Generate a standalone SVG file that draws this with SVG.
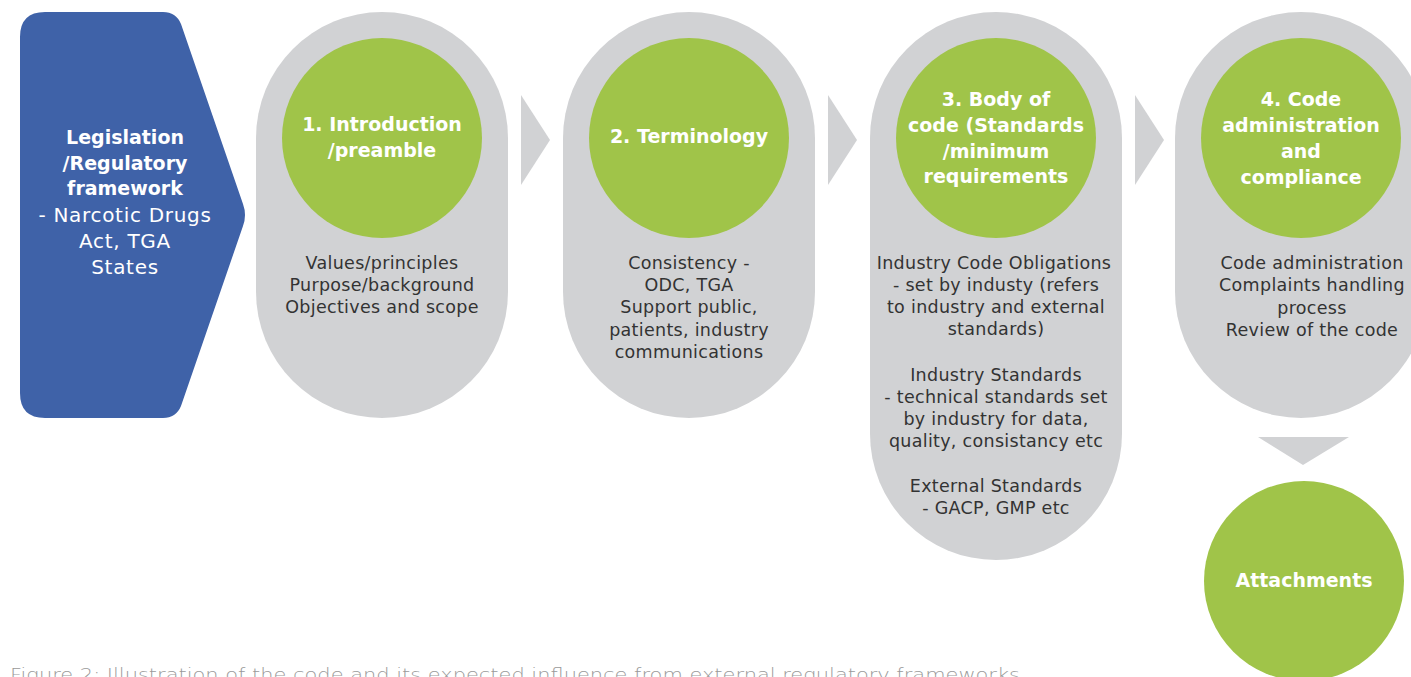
<svg xmlns="http://www.w3.org/2000/svg" width="1411" height="677" viewBox="0 0 1411 677">
<style>
.pill{fill:#D1D2D4}
.green{fill:#A0C449}
.chev{fill:#D1D2D4}
.h{font-family:"DejaVu Sans","Open Sans",sans-serif;font-weight:700;font-size:19px;fill:#ffffff;text-anchor:middle}
.b{font-family:"DejaVu Sans","Open Sans",sans-serif;font-size:17.5px;letter-spacing:0.3px;fill:#333333;text-anchor:middle}
.w{font-family:"DejaVu Sans","Open Sans",sans-serif;font-size:20px;letter-spacing:0.7px;fill:#ffffff;text-anchor:middle}
.cap{font-family:"DejaVu Sans","Open Sans",sans-serif;font-weight:200;font-size:18px;fill:#9a9a9a}
</style>
<rect width="1411" height="677" fill="#ffffff"/>
<g id="legislation">
<path d="M45 12 H163 Q176 12 181 24 L243 204 Q247 215 243 226 L181 406 Q176 418 163 418 H45 Q20 418 20 393 V37 Q20 12 45 12 Z" fill="#3F62A8"/>
<text class="h" x="125" y="144">Legislation</text>
<text class="h" x="125" y="170">/Regulatory</text>
<text class="h" x="125" y="195">framework</text>
<text class="w" x="125" y="222">- Narcotic Drugs</text>
<text class="w" x="125" y="248">Act, TGA</text>
<text class="w" x="125" y="274">States</text>
</g>
<g id="introduction">
<rect class="pill" x="256" y="12" width="252" height="406" rx="126" ry="126"/>
<circle class="green" cx="382" cy="138" r="100"/>
<text class="h" x="382" y="131">1. Introduction</text>
<text class="h" x="382" y="157">/preamble</text>
<text class="b" x="382" y="269">Values/principles</text>
<text class="b" x="382" y="291">Purpose/background</text>
<text class="b" x="382" y="313">Objectives and scope</text>
</g>
<g id="terminology">
<rect class="pill" x="563" y="12" width="252" height="406" rx="126" ry="126"/>
<circle class="green" cx="689" cy="138" r="100"/>
<text class="h" x="689" y="143">2. Terminology</text>
<text class="b" x="689" y="269">Consistency -</text>
<text class="b" x="689" y="291">ODC, TGA</text>
<text class="b" x="689" y="313">Support public,</text>
<text class="b" x="689" y="336">patients, industry</text>
<text class="b" x="689" y="358">communications</text>
</g>
<g id="body">
<rect class="pill" x="870" y="12" width="252" height="548" rx="126" ry="126"/>
<circle class="green" cx="996" cy="138" r="100"/>
<text class="h" x="996" y="106">3. Body of</text>
<text class="h" x="996" y="132">code (Standards</text>
<text class="h" x="996" y="158">/minimum</text>
<text class="h" x="996" y="183">requirements</text>
<text class="b" x="994" y="269">Industry Code Obligations</text>
<text class="b" x="996" y="291">- set by industy (refers</text>
<text class="b" x="996" y="313">to industry and external</text>
<text class="b" x="996" y="335">standards)</text>
<text class="b" x="996" y="381">Industry Standards</text>
<text class="b" x="996" y="403">- technical standards set</text>
<text class="b" x="996" y="425">by industry for data,</text>
<text class="b" x="996" y="447">quality, consistancy etc</text>
<text class="b" x="996" y="492">External Standards</text>
<text class="b" x="996" y="514">- GACP, GMP etc</text>
</g>
<g id="administration">
<rect class="pill" x="1175" y="12" width="252" height="406" rx="126" ry="126"/>
<circle class="green" cx="1301" cy="138" r="100"/>
<text class="h" x="1301" y="106">4. Code</text>
<text class="h" x="1301" y="132">administration</text>
<text class="h" x="1301" y="158">and</text>
<text class="h" x="1301" y="184">compliance</text>
<text class="b" x="1312" y="269">Code administration</text>
<text class="b" x="1312" y="291">Complaints handling</text>
<text class="b" x="1312" y="314">process</text>
<text class="b" x="1312" y="336">Review of the code</text>
</g>
<g id="attachments">
<circle class="green" cx="1304" cy="581" r="100"/>
<text class="h" x="1304" y="587">Attachments</text>
</g>
<g id="connectors">
<polygon class="chev" points="521,95 550,140 521,185"/>
<polygon class="chev" points="828,95 857,140 828,185"/>
<polygon class="chev" points="1135,95 1164,140 1135,185"/>
<polygon class="chev" points="1258,437 1349,437 1303,465"/>
</g>
<text class="cap" x="10" y="681" textLength="1010" lengthAdjust="spacingAndGlyphs">Figure 2: Illustration of the code and its expected influence from external regulatory frameworks</text>
</svg>
